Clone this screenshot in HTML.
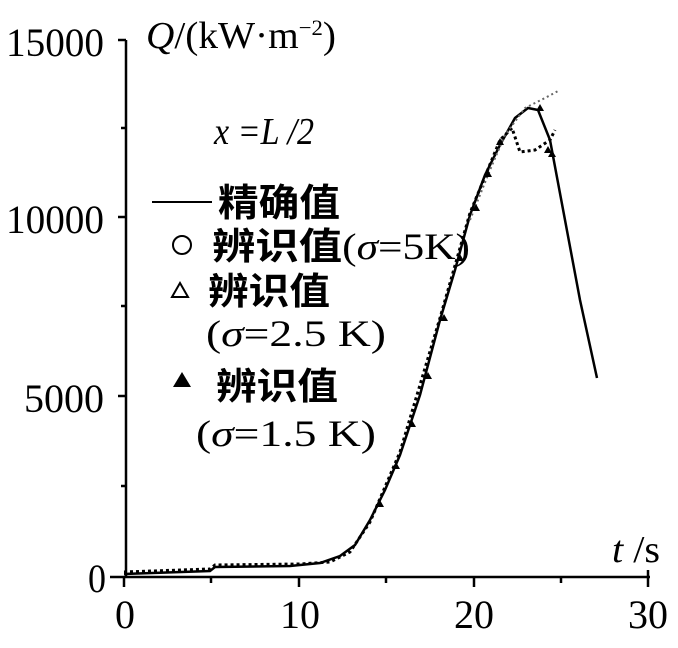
<!DOCTYPE html>
<html><head><meta charset="utf-8"><style>
body{margin:0;background:#fff}
svg{display:block}
text{font-family:"Liberation Serif","Noto Serif CJK SC",serif;fill:#000}
.cj{font-family:"Liberation Serif","Noto Sans CJK SC",sans-serif;font-weight:bold}
</style></head><body>
<svg width="678" height="648" viewBox="0 0 678 648">
<g stroke="#000" stroke-width="2.5" fill="none">
<line x1="126" y1="40" x2="126" y2="578"/>
<line x1="110" y1="577" x2="650" y2="577"/>
<line x1="118" y1="40" x2="126" y2="40"/>
<line x1="118" y1="217" x2="126" y2="217"/>
<line x1="118" y1="396" x2="126" y2="396"/>
<line x1="121" y1="128" x2="126" y2="128"/>
<line x1="121" y1="306" x2="126" y2="306"/>
<line x1="121" y1="486" x2="126" y2="486"/>
<line x1="124" y1="577" x2="124" y2="587"/>
<line x1="299" y1="577" x2="299" y2="587"/>
<line x1="474" y1="577" x2="474" y2="587"/>
<line x1="648" y1="570" x2="648" y2="587"/>
<line x1="211" y1="577" x2="211" y2="583"/>
<line x1="386" y1="577" x2="386" y2="583"/>
<line x1="561" y1="577" x2="561" y2="583"/>
</g>
<g font-size="40">
<text x="6" y="56" textLength="98" lengthAdjust="spacingAndGlyphs">15000</text>
<text x="6" y="233" textLength="98" lengthAdjust="spacingAndGlyphs">10000</text>
<text x="24" y="412" textLength="80" lengthAdjust="spacingAndGlyphs">5000</text>
<text x="88" y="592" textLength="18" lengthAdjust="spacingAndGlyphs">0</text>
</g>
<g font-size="40">
<text x="115" y="628" textLength="20" lengthAdjust="spacingAndGlyphs">0</text>
<text x="280" y="628" textLength="40" lengthAdjust="spacingAndGlyphs">10</text>
<text x="454" y="628" textLength="40" lengthAdjust="spacingAndGlyphs">20</text>
<text x="628" y="628" textLength="40" lengthAdjust="spacingAndGlyphs">30</text>
</g>
<text x="612" y="562" font-size="38" textLength="48" lengthAdjust="spacingAndGlyphs"><tspan font-style="italic">t</tspan> /s</text>
<text x="146" y="48" font-size="38" textLength="190" lengthAdjust="spacingAndGlyphs"><tspan font-style="italic">Q</tspan>/(kW·m<tspan font-size="22" dy="-13">−2</tspan><tspan dy="13">)</tspan></text>
<text x="214" y="144" font-size="38" font-style="italic" textLength="100" lengthAdjust="spacingAndGlyphs">x =L /2</text>
<line x1="152" y1="202" x2="212" y2="202" stroke="#000" stroke-width="2"/>
<text x="218" y="216" font-size="38" class="cj" textLength="122" lengthAdjust="spacingAndGlyphs">精确值</text>
<circle cx="182" cy="245" r="9" fill="none" stroke="#000" stroke-width="2"/>
<text x="212" y="259" font-size="37" textLength="258" lengthAdjust="spacingAndGlyphs"><tspan class="cj">辨识值</tspan>(<tspan font-style="italic">σ</tspan>=5K)</text>
<polygon points="180,283 188,297 172,297" fill="none" stroke="#000" stroke-width="2"/>
<text x="208" y="304" font-size="37" class="cj" textLength="122" lengthAdjust="spacingAndGlyphs">辨识值</text>
<text x="206" y="346" font-size="37" textLength="180" lengthAdjust="spacingAndGlyphs">(<tspan font-style="italic">σ</tspan>=2.5 K)</text>
<polygon points="182,372 191,387 173,387" fill="#000"/>
<text x="216" y="399" font-size="37" class="cj" textLength="122" lengthAdjust="spacingAndGlyphs">辨识值</text>
<text x="196" y="446" font-size="37" textLength="180" lengthAdjust="spacingAndGlyphs">(<tspan font-style="italic">σ</tspan>=1.5 K)</text>
<polyline fill="none" stroke="#000" stroke-width="2.5" points="124,574 210,571 215,567 290,566 320,563 340,556 355,545 370,520 385,490 400,455 420,395 440,320 455,270 470,215 485,175 500,145 515,118 528,108 538,110 550,140 565,220 580,300 597,378"/>
<polyline fill="none" stroke="#000" stroke-width="3" stroke-dasharray="3,3" points="124,572 210,569 215,565 300,564 330,562 350,552 370,522 400,452 440,318 470,213 500,140 512,128 520,152 535,150 550,140 555,130"/>
<polyline fill="none" stroke="#666" stroke-width="2" stroke-dasharray="2,3" points="470,220 490,170 505,135 525,108 545,98 560,90"/>
<g fill="#000">
<polygon points="380,500 384,507 376,507"/><polygon points="396,462 400,469 392,469"/>
<polygon points="412,420 416,427 408,427"/><polygon points="428,372 432,379 424,379"/>
<polygon points="444,314 448,321 440,321"/><polygon points="460,254 464,261 456,261"/>
<polygon points="476,204 480,211 472,211"/><polygon points="488,170 492,177 484,177"/>
<polygon points="500,138 504,145 496,145"/><polygon points="540,104 544,111 536,111"/>
<polygon points="548,146 552,153 544,153"/><polygon points="552,150 556,157 548,157"/>
</g>
</svg>
</body></html>
